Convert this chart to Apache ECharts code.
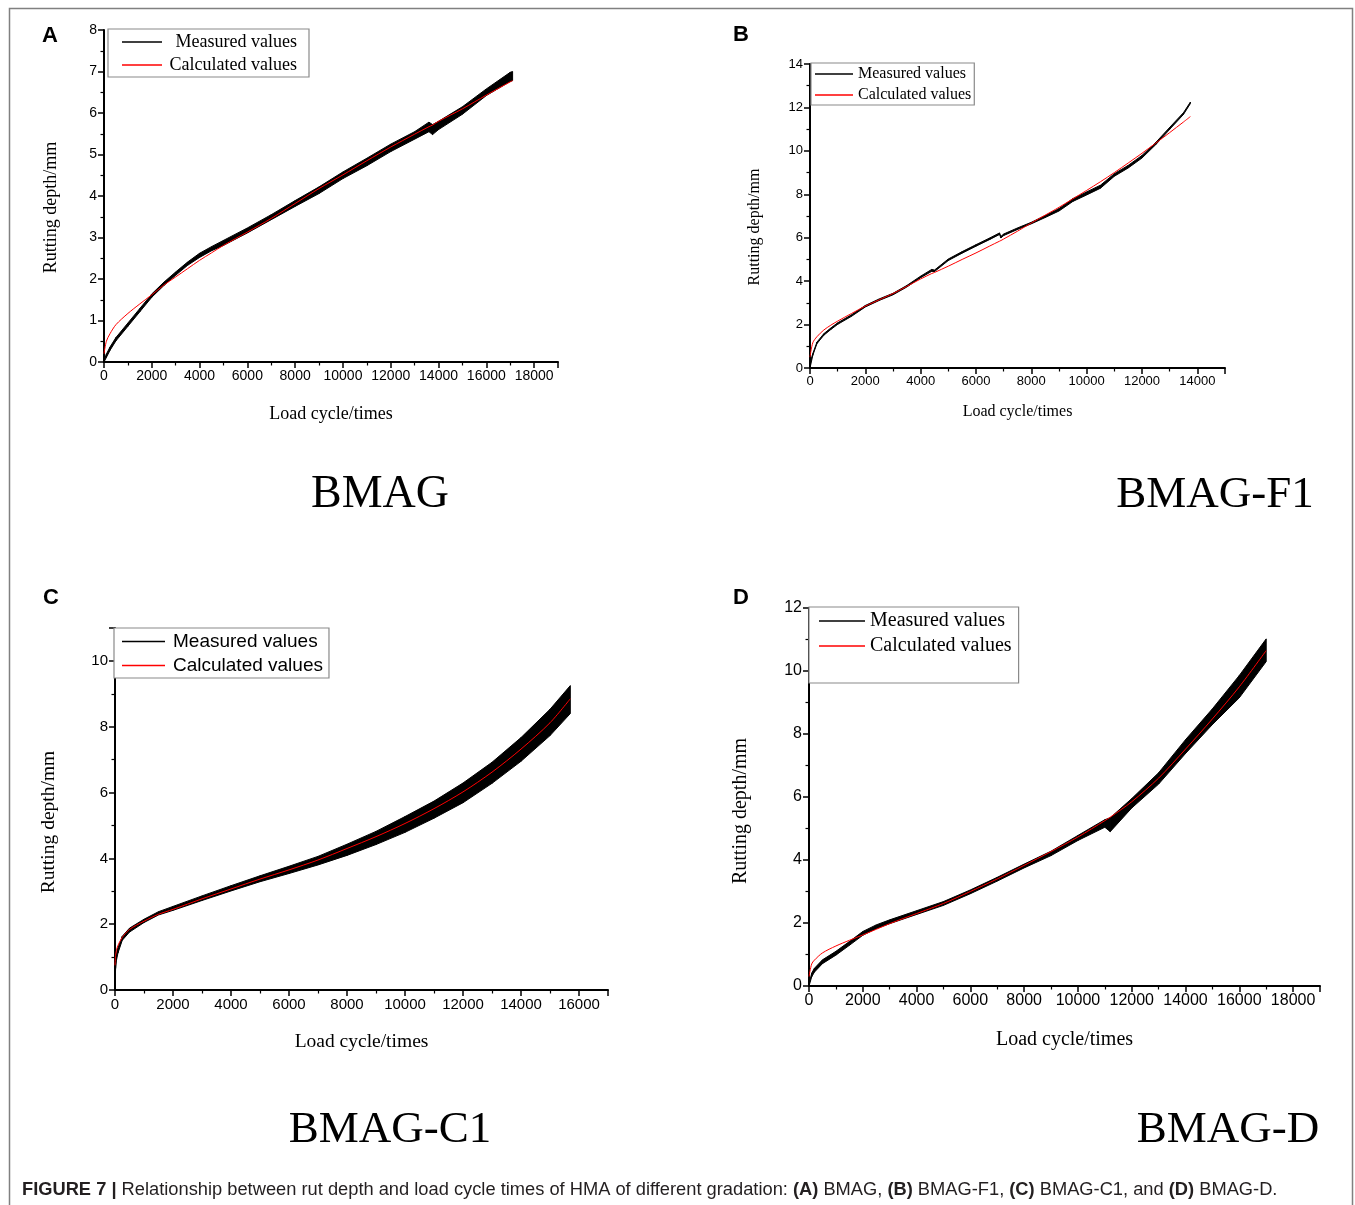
<!DOCTYPE html>
<html><head><meta charset="utf-8">
<script src="https://cdn.jsdelivr.net/npm/echarts@6/dist/echarts.min.js"></script>
<style>html,body{margin:0;padding:0;background:#fff}#c{width:1355px;height:1205px}</style>
</head><body><div id="c"></div>
<script>
// ---------- Panel A: BMAG ----------
const cyclesA = [0,100,250,500,1000,1500,2000,2500,3000,3500,4000,4500,5000,6000,7000,8000,9000,10000,11000,12000,13000,13600,13750,14000,15000,16000,17000,17100];
const measuredUpperA = [0.03,0.19,0.36,0.59,0.94,1.29,1.64,1.92,2.17,2.41,2.62,2.78,2.93,3.23,3.55,3.89,4.22,4.58,4.91,5.25,5.55,5.78,5.72,5.8,6.15,6.58,6.98,7.0];
const measuredLowerA = [0.0,0.11,0.28,0.51,0.86,1.21,1.56,1.84,2.09,2.33,2.52,2.68,2.81,3.11,3.43,3.75,4.06,4.42,4.73,5.07,5.37,5.55,5.48,5.6,5.97,6.42,6.76,6.78];
const calculatedA = [0.2,0.5,0.68,0.9,1.17,1.4,1.62,1.85,2.05,2.25,2.45,2.63,2.81,3.13,3.46,3.82,4.18,4.51,4.85,5.18,5.49,5.67,5.71,5.8,6.1,6.43,6.75,6.78];

// ---------- Panel B: BMAG-F1 ----------
const cyclesB = [0,100,250,500,750,1000,1500,2000,2500,3000,3500,4000,4400,4500,5000,5500,6000,6500,6850,6900,7000,7500,8000,8500,9000,9500,10000,10500,11000,11500,12000,12500,13000,13500,13750];
const measuredUpperB = [0.22,0.66,1.19,1.58,1.84,2.08,2.45,2.88,3.18,3.44,3.8,4.23,4.54,4.51,5.02,5.36,5.68,5.99,6.22,6.06,6.17,6.45,6.71,7.02,7.34,7.8,8.11,8.42,8.95,9.33,9.79,10.39,11.08,11.76,12.25];
const measuredLowerB = [0.0,0.58,1.12,1.51,1.77,2.01,2.38,2.81,3.11,3.37,3.73,4.16,4.45,4.44,4.95,5.29,5.61,5.92,6.15,5.99,6.1,6.38,6.64,6.93,7.23,7.67,7.97,8.28,8.83,9.21,9.67,10.29,10.99,11.68,12.18];
const calculatedB = [0.5,1.16,1.44,1.75,1.97,2.16,2.51,2.85,3.14,3.43,3.76,4.1,4.35,4.4,4.69,5.0,5.3,5.62,5.84,5.87,5.94,6.3,6.68,7.04,7.4,7.79,8.18,8.58,9.0,9.44,9.89,10.36,10.84,11.33,11.58];

// ---------- Panel C: BMAG-C1 ----------
const cyclesC = [0,20,50,100,250,500,1000,1500,2000,3000,4000,5000,6000,7000,8000,9000,10000,11000,12000,13000,14000,15000,15700];
const measuredUpperC = [0.7,0.95,1.1,1.28,1.63,1.88,2.15,2.38,2.54,2.86,3.17,3.47,3.76,4.06,4.43,4.82,5.27,5.74,6.29,6.92,7.67,8.53,9.25];
const measuredLowerC = [0.0,0.65,0.9,1.12,1.51,1.76,2.05,2.28,2.42,2.72,3.01,3.29,3.54,3.8,4.09,4.42,4.79,5.22,5.69,6.28,6.95,7.73,8.4];
const calculatedC = [0.75,1.05,1.2,1.35,1.6,1.84,2.09,2.3,2.45,2.77,3.07,3.37,3.65,3.95,4.3,4.66,5.06,5.51,6.02,6.62,7.32,8.12,8.85];

// ---------- Panel D: BMAG-D ----------
const cyclesD = [0,100,200,500,1000,1500,2000,2500,3000,4000,5000,6000,7000,8000,9000,10000,11000,11200,12000,13000,14000,15000,16000,17000];
const measuredUpperD = [0.05,0.41,0.56,0.83,1.1,1.41,1.73,1.94,2.1,2.39,2.68,3.05,3.45,3.87,4.28,4.78,5.28,5.34,5.95,6.77,7.82,8.8,9.86,11.02];
const measuredLowerD = [0.0,0.29,0.44,0.71,0.98,1.29,1.61,1.82,1.98,2.27,2.56,2.93,3.33,3.75,4.14,4.62,5.04,4.9,5.65,6.41,7.38,8.3,9.15,10.3];
const calculatedD = [0.3,0.7,0.82,1.05,1.27,1.45,1.62,1.8,1.98,2.3,2.62,3.0,3.4,3.83,4.27,4.73,5.25,5.36,5.85,6.6,7.52,8.48,9.5,10.65];

// ---------- Tick / text ----------
const xTickInterval = 2000;
const yMaxA = 8, yIntA = 1, xMaxA = 19000;
const yMaxB = 14, yIntB = 2, xMaxB = 15000;
const yMaxC = 11, yIntC = 2, xMaxC = 17000;
const yMaxD = 12, yIntD = 2, xMaxD = 19000;
const seriesNames = ['Measured values', 'Calculated values'];
const xTitle = 'Load cycle/times';
const yTitle = 'Rutting depth/mm';
const panelLetters = ['A', 'B', 'C', 'D'];
const panelNames = ['BMAG', 'BMAG-F1', 'BMAG-C1', 'BMAG-D'];

const SERIF = '"Liberation Serif","Times New Roman",serif';
const SANS = '"Liberation Sans",Arial,sans-serif';

const panels = [
  {xs: cyclesA, up: measuredUpperA, lo: measuredLowerA, calc: calculatedA, xMax: xMaxA, yMax: yMaxA, yInt: yIntA, yShowMax:true,
   grid: {left:104, top:30, width:454, height:332}, tickFont:14, titleFont:18, yGap:44, xGap:43, yShift:23,
   legend: {left:108, top:29, padding:[4,12,3,14], itemWidth:40, itemGap:5, font:18, family:SERIF, textPad:3, rightAlignWidth:127}},
  {xs: cyclesB, up: measuredUpperB, lo: measuredLowerB, calc: calculatedB, xMax: xMaxB, yMax: yMaxB, yInt: yIntB, yShowMax:true,
   grid: {left:810, top:64, width:415, height:304}, tickFont:13, titleFont:16, yGap:47, xGap:36, yShift:22,
   legend: {left:811, top:63, padding:[3,3,2,4], itemWidth:38, itemGap:5, font:16, family:SERIF, textPad:0}},
  {xs: cyclesC, up: measuredUpperC, lo: measuredLowerC, calc: calculatedC, xMax: xMaxC, yMax: yMaxC, yInt: yIntC, yShowMax:false,
   grid: {left:115, top:628, width:493, height:362}, tickFont:15, titleFont:19.5, yGap:56, xGap:42, yShift:26,
   legend: {left:114, top:628, padding:[4,6,3,8], itemWidth:43, itemGap:5, font:19, family:SANS, textPad:3}},
  {xs: cyclesD, up: measuredUpperD, lo: measuredLowerD, calc: calculatedD, xMax: xMaxD, yMax: yMaxD, yInt: yIntD, yShowMax:true,
   grid: {left:809, top:608, width:511, height:378}, tickFont:16, titleFont:20, yGap:58, xGap:44, yShift:28,
   legend: {left:809, top:607, padding:[4,7,27,10], itemWidth:46, itemGap:5, font:20, family:SERIF, textPad:0}}
];

const plain = v => String(v);

const grids = [], xAxes = [], yAxes = [], series = [], legends = [];
panels.forEach((p, i) => {
  grids.push(Object.assign({outerBoundsMode:'none', containLabel:false}, p.grid));
  const common = {
    axisLine: {show:true, onZero:false, lineStyle:{color:'#000', width:2}},
    axisTick: {show:true, inside:false, length:6, lineStyle:{color:'#000', width:1.5}},
    minorTick: {show:true, splitNumber:2, length:3.5, lineStyle:{color:'#000', width:1.2}},
    splitLine: {show:false}
  };
  xAxes.push(Object.assign({}, common, {
    type:'value', gridIndex:i, min:0, max:p.xMax, interval:xTickInterval,
    name:xTitle, nameLocation:'middle', nameGap:p.xGap,
    nameTextStyle: {color:'#000', fontFamily:SERIF, fontSize:p.titleFont, verticalAlign:'top'},
    axisLabel: {color:'#000', fontFamily:SANS, fontSize:p.tickFont, margin:7, showMaxLabel:false, formatter:plain}
  }));
  yAxes.push(Object.assign({}, common, {
    type:'value', gridIndex:i, min:0, max:p.yMax, interval:p.yInt,
    name:yTitle, nameLocation:'middle', nameGap:p.yGap,
    nameTextStyle: {color:'#000', fontFamily:SERIF, fontSize:p.titleFont, padding:[0, p.yShift, 0, 0]},
    axisLabel: {color:'#000', fontFamily:SANS, fontSize:p.tickFont, margin:7, showMaxLabel:p.yShowMax, formatter:plain}
  }));
  // measured values: noisy band between lower and upper envelopes
  const xs = p.xs, up = p.up, lo = p.lo;
  series.push({
    name:seriesNames[0], type:'custom', xAxisIndex:i, yAxisIndex:i, coordinateSystem:'cartesian2d',
    data:xs.map((x, k) => [x, lo[k], up[k]]), encode:{x:0, y:[1, 2]}, silent:true, z:2, animation:false,
    itemStyle:{color:'#000'},
    renderItem:(params, api) => {
      const k = params.dataIndex;
      if (k >= xs.length - 1) return {type:'group', children:[]};
      const a = api.coord([xs[k], lo[k]]), b = api.coord([xs[k+1], lo[k+1]]);
      const c = api.coord([xs[k+1], up[k+1]]), d = api.coord([xs[k], up[k]]);
      return {type:'polygon', shape:{points:[a, b, c, d]}, style:{fill:'#000', stroke:'#000', lineWidth:1}};
    }
  });
  series.push({
    name:seriesNames[1], type:'line', xAxisIndex:i, yAxisIndex:i,
    data:xs.map((x, k) => [x, p.calc[k]]), symbol:'none', silent:true, smooth:0.3,
    lineStyle:{color:'#ff0000', width:1}, itemStyle:{color:'#ff0000'}, z:3, animation:false
  });
  const L = p.legend;
  const lg = {
    show:true, orient:'vertical', left:L.left, top:L.top, padding:L.padding,
    itemWidth:L.itemWidth, itemHeight:1.4, itemGap:L.itemGap, selectedMode:false,
    backgroundColor:'#fff', borderColor:'#8a8a8a', borderWidth:1.2, borderRadius:0, z:10,
    data:[
      {name:seriesNames[0], icon:'rect', itemStyle:{color:'#000'}},
      {name:seriesNames[1], icon:'rect', itemStyle:{color:'#ff0000'}}
    ],
    textStyle:{color:'#000', fontFamily:L.family, fontSize:L.font, padding:[0,0,0,L.textPad]}
  };
  if (L.rightAlignWidth) {
    lg.formatter = n => '{r|' + n + '}';
    lg.textStyle.rich = {r:{width:L.rightAlignWidth, align:'right', fontFamily:L.family, fontSize:L.font, color:'#000'}};
  }
  legends.push(lg);
});

const graphic = [
  {type:'rect', shape:{x:9.5, y:8.5, width:1343, height:1400}, style:{fill:'none', stroke:'#808080', lineWidth:1.5}, silent:true},
  {type:'text', left:42, top:25, style:{text:panelLetters[0], font:'bold 22px ' + SANS, fill:'#000'}},
  {type:'text', left:733, top:24, style:{text:panelLetters[1], font:'bold 22px ' + SANS, fill:'#000'}},
  {type:'text', left:43, top:587, style:{text:panelLetters[2], font:'bold 22px ' + SANS, fill:'#000'}},
  {type:'text', left:733, top:587, style:{text:panelLetters[3], font:'bold 22px ' + SANS, fill:'#000'}},
  {type:'text', x:380, y:495, style:{text:panelNames[0], font:'46px ' + SERIF, fill:'#000', textAlign:'center', textVerticalAlign:'middle'}},
  {type:'text', x:1215, y:495, style:{text:panelNames[1], font:'45px ' + SERIF, fill:'#000', textAlign:'center', textVerticalAlign:'middle'}},
  {type:'text', x:390, y:1130, style:{text:panelNames[2], font:'45px ' + SERIF, fill:'#000', textAlign:'center', textVerticalAlign:'middle'}},
  {type:'text', x:1228, y:1130, style:{text:panelNames[3], font:'45px ' + SERIF, fill:'#000', textAlign:'center', textVerticalAlign:'middle'}},
  {type:'text', x:22, y:1190, style:{
    text:'{b|FIGURE 7 | }{n|Relationship between rut depth and load cycle times of HMA of different gradation: }{b|(A)}{n| BMAG, }{b|(B)}{n| BMAG-F1, }{b|(C)}{n| BMAG-C1, and }{b|(D)}{n| BMAG-D.}',
    textVerticalAlign:'middle', textAlign:'left',
    rich:{
      b:{fontFamily:SANS, fontWeight:'bold', fontSize:18.3, fill:'#231f20'},
      n:{fontFamily:SANS, fontSize:18.3, fill:'#231f20'}
    }
  }}
];

const chart = echarts.init(document.getElementById('c'), null, {renderer:'canvas', width:1355, height:1205});
chart.setOption({
  animation:false,
  backgroundColor:'#fff',
  grid:grids, xAxis:xAxes, yAxis:yAxes, series:series, legend:legends, graphic:graphic
});
</script></body></html>
